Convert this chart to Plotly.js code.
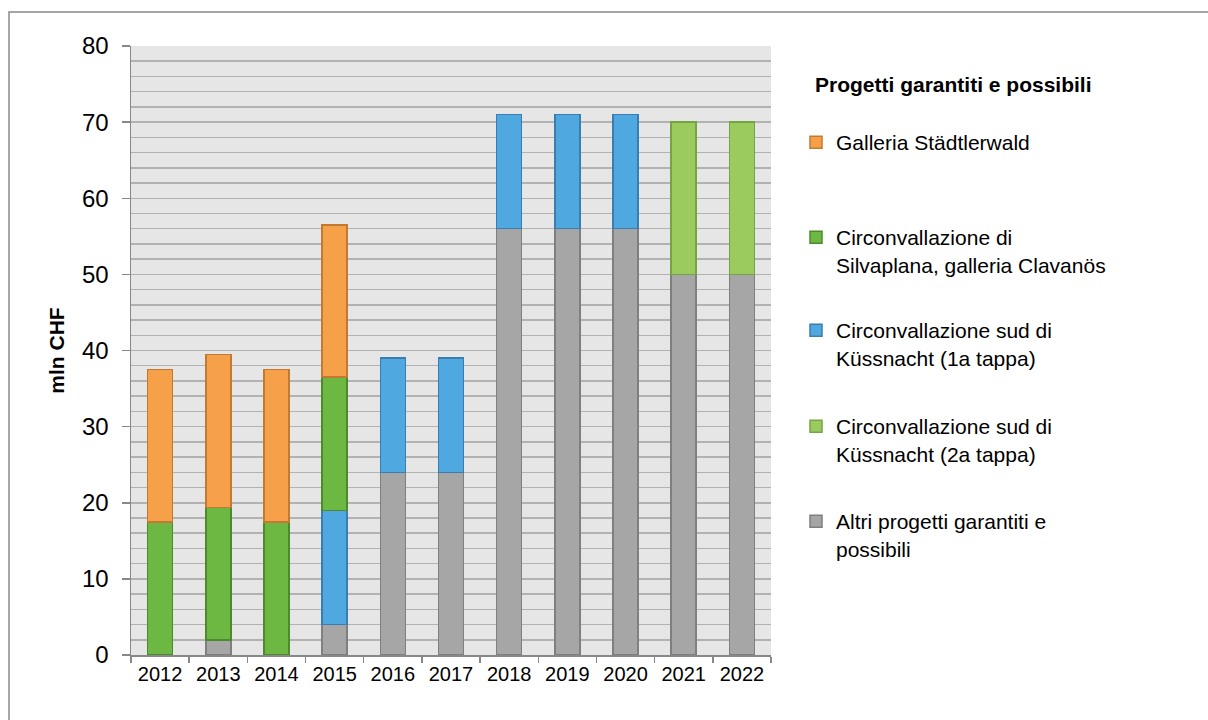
<!DOCTYPE html>
<html>
<head>
<meta charset="utf-8">
<script src="https://cdn.plot.ly/plotly-3.0.1.min.js"></script>
<style>html,body{margin:0;padding:0;background:#fff;}#chart{width:1208px;height:720px;}</style>
</head>
<body>
<div id="chart"></div>
<script>
var years = ['2012','2013','2014','2015','2016','2017','2018','2019','2020','2021','2022'];
var altri      = [null, 2, null, 4, 24, 24, 56, 56, 56, 50, 50];
var kuess2     = [null, null, null, null, null, null, null, null, null, 20, 20];
var kuess1     = [null, null, null, 15, 15, 15, 15, 15, 15, null, null];
var silvaplana = [17.5, 17.4, 17.5, 17.5, null, null, null, null, null, null, null];
var staedtler  = [20, 20.1, 20, 20, null, null, null, null, null, null, null];

var names = {
  staedtler: 'Galleria Städtlerwald',
  silvaplana: 'Circonvallazione di<br>Silvaplana, galleria Clavanös',
  kuess1: 'Circonvallazione sud di<br>Küssnacht (1a tappa)',
  kuess2: 'Circonvallazione sud di<br>Küssnacht (2a tappa)',
  altri: 'Altri progetti garantiti e<br>possibili'
};
var legendTitle = 'Progetti garantiti e possibili';
var yTitle = 'mln CHF';

var FONT = 'Liberation Sans, Arial, sans-serif';

function bar(y, name, fill, line, leg) {
  return {
    type: 'bar', x: years, y: y, name: name,
    marker: {color: fill, line: {color: line, width: 1.5}},
    legend: leg, hoverinfo: 'x+y+name'
  };
}

var data = [
  bar(altri, names.altri, '#A6A6A6', '#7F7F7F', 'legend5'),
  bar(kuess2, names.kuess2, '#9BCB5E', '#76A443', 'legend4'),
  bar(kuess1, names.kuess1, '#4FA8E0', '#3A7DB0', 'legend3'),
  bar(silvaplana, names.silvaplana, '#6CB843', '#4C8A2C', 'legend2'),
  bar(staedtler, names.staedtler, '#F7A04A', '#C27A32', 'legend')
];

function leg(py) {
  return {
    xref: 'container', yref: 'container',
    x: 796 / 1208, y: 1 - py / 720, xanchor: 'left', yanchor: 'top',
    font: {family: FONT, size: 21, color: '#000'},
    valign: 'top', bgcolor: 'rgba(0,0,0,0)', borderwidth: 0
  };
}

var layout = {
  width: 1208, height: 720,
  paper_bgcolor: '#fff', plot_bgcolor: '#E6E6E6',
  margin: {l: 131, r: 437, t: 46, b: 65, pad: 0},
  barmode: 'stack', bargap: 0.57,
  font: {family: FONT, color: '#000'},
  xaxis: {
    type: 'category', tickson: 'boundaries', ticks: 'outside', ticklen: 6,
    tickcolor: '#888', tickwidth: 1.5,
    showline: true, linecolor: '#888', linewidth: 1.5,
    showgrid: false, zeroline: false,
    tickfont: {family: FONT, size: 20, color: '#000'}
  },
  yaxis: {
    range: [0, 80], dtick: 10, tick0: 0,
    ticks: 'outside', ticklen: 8, tickcolor: '#888', tickwidth: 1.5,
    showline: true, linecolor: '#888', linewidth: 1.5,
    showgrid: true, gridcolor: '#B2B2B2', gridwidth: 1.5,
    zeroline: false,
    minor: {dtick: 2, showgrid: true, gridcolor: '#B2B2B2', gridwidth: 1.5},
    ticklabelstandoff: 8,
    tickfont: {family: FONT, size: 24, color: '#000'},
    title: {text: yTitle, font: {family: FONT, size: 21, color: '#000', weight: 'bold'}, standoff: 11}
  },
  showlegend: true,
  legend: leg(122),
  legend2: leg(217),
  legend3: leg(310),
  legend4: leg(406),
  legend5: leg(501),
  annotations: [{
    xref: 'paper', yref: 'paper', x: (813 - 131) / 640, y: (655 - 84) / 609,
    xanchor: 'left', yanchor: 'middle', showarrow: false,
    text: '<b>' + legendTitle + '</b>',
    font: {family: FONT, size: 21, color: '#000'}
  }],
  shapes: [{
    type: 'rect', xref: 'paper', yref: 'paper',
    x0: (9 - 131) / 640, x1: (1260 - 131) / 640,
    y0: -(760 - 655) / 609, y1: (655 - 12) / 609,
    line: {color: '#888', width: 1.5}, fillcolor: 'rgba(0,0,0,0)', layer: 'below'
  }]
};

Plotly.newPlot('chart', data, layout, {displayModeBar: false, staticPlot: true});
</script>
</body>
</html>
